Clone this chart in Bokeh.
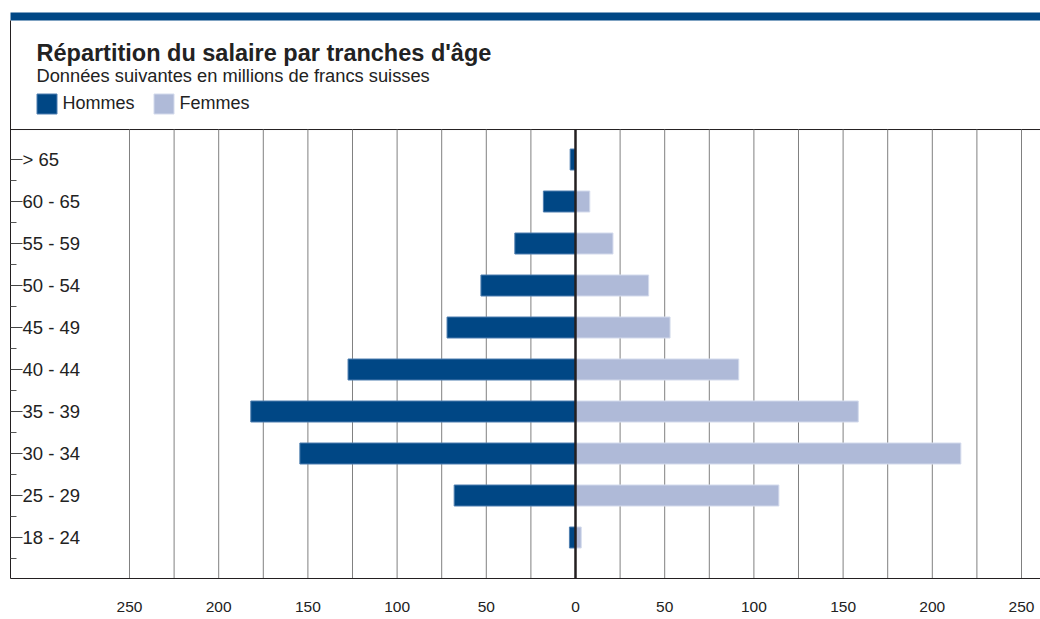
from bokeh.plotting import figure
from bokeh.models import (Range1d, FixedTicker, CustomJSTickFormatter, Legend, LegendItem,
                          ColumnDataSource, CustomLabelingPolicy)
from bokeh.core.properties import value
from bokeh.embed import file_html
from bokeh.resources import INLINE

# ---------------- data ----------------
categories = ["18 - 24", "25 - 29", "30 - 34", "35 - 39", "40 - 44",
              "45 - 49", "50 - 54", "55 - 59", "60 - 65", "> 65"]
hommes = [3.4, 68, 154.5, 182, 127.5, 72, 53, 34, 18, 3]
femmes = [3.2, 114, 216, 158.5, 91.5, 53, 41, 21, 8, 0]
series_names = ["Hommes", "Femmes"]
x_ticks = [-250, -200, -150, -100, -50, 0, 50, 100, 150, 200, 250]
grid_ticks = [-250, -225, -200, -175, -150, -125, -100, -75, -50, -25,
              25, 50, 75, 100, 125, 150, 175, 200, 225, 250]
title_text = "Répartition du salaire par tranches d'âge"
subtitle_text = "Données suivantes en millions de francs suisses"

# ---------------- style ----------------
FONT = "Liberation Sans"
TXT = "#222222"
C_H = "#004785"
C_F = "#afbad8"

W, H = 1040, 619
FRAME_W, FRAME_H = 1030, 578
Y0, Y1 = -0.976, 12.786        # frame y extent (data units, 42 px per row)
PLOT_TOP = 9.714               # top line of the plot region
AXIS_TOP = 12.31               # left border starts under the blue band

p = figure(width=W, height=H, output_backend="svg", toolbar_location=None,
           title=None,
           x_range=Range1d(-316.7, 260.65), y_range=Range1d(Y0, Y1))
p.min_border = 0
p.min_border_left = 10
p.min_border_bottom = 41
p.outline_line_color = None
p.background_fill_color = "white"
p.border_fill_color = "white"
p.xgrid.visible = False
p.ygrid.visible = False

p.extra_x_ranges = {"px": Range1d(0, FRAME_W)}
p.extra_y_ranges = {"py": Range1d(FRAME_H, 0)}

idx = list(range(len(categories)))

# header
p.quad(left=[-5], right=[1040], top=[12], bottom=[20], x_range_name="px", y_range_name="py",
       fill_color=C_H, line_color=None)
p.text(x=[26], y=[52.7], text=[title_text], x_range_name="px", y_range_name="py",
       text_font=value(FONT), text_font_size="23.5px", text_font_style="bold",
       text_color=TXT, text_baseline="alphabetic")
p.text(x=[26], y=[74.5], text=[subtitle_text], x_range_name="px", y_range_name="py",
       text_font=value(FONT), text_font_size="18.3px",
       text_color=TXT, text_baseline="alphabetic")

# top line of plot region
p.segment(x0=[-5], x1=[1040], y0=[PLOT_TOP], y1=[PLOT_TOP], x_range_name="px",
          line_color="#231f20", line_width=1)

# vertical gridlines
p.segment(x0=grid_ticks, x1=grid_ticks, y0=[Y0] * len(grid_ticks), y1=[PLOT_TOP] * len(grid_ticks),
          line_color="#808080", line_width=1)

# bars
src = ColumnDataSource(dict(y=idx, h_left=[-v for v in hommes], zero=[0] * len(idx),
                            f_right=femmes))
rh = p.hbar(y="y", left="h_left", right="zero", height=0.5, source=src,
            fill_color=C_H, line_color="#4f7fb0", line_width=1)
rf = p.hbar(y="y", left="zero", right="f_right", height=0.5, source=src,
            fill_color=C_F, line_color="#d3daec", line_width=1)

# zero line
p.segment(x0=[0], x1=[0], y0=[Y0], y1=[PLOT_TOP], line_color="#231f20", line_width=2.5)

# category labels
p.text(x=[12] * len(idx), y=idx, text=categories, x_range_name="px",
       text_font=value(FONT), text_font_size="18.5px", text_color=TXT,
       text_baseline="middle", text_align="left")

# axes
xa = p.xaxis[0]
xa.ticker = FixedTicker(ticks=x_ticks)
xa.formatter = CustomJSTickFormatter(code="return Math.abs(tick).toString();")
xa.major_tick_in = 0
xa.major_tick_out = 0
xa.minor_tick_in = 0
xa.minor_tick_out = 0
xa.axis_line_color = "#231f20"
xa.axis_line_width = 1
xa.major_label_standoff = 23
xa.major_label_text_font = FONT
xa.major_label_text_font_size = "15.5px"
xa.major_label_text_color = TXT

ya = p.yaxis[0]
ya.ticker = FixedTicker(ticks=idx, minor_ticks=[i - 0.5 for i in idx])
ya.formatter = CustomJSTickFormatter(code="return '';")
ya.major_label_policy = CustomLabelingPolicy(code="return new Set();")
ya.bounds = (Y0, AXIS_TOP)
ya.major_tick_in = 12
ya.major_tick_out = 0
ya.minor_tick_in = 6
ya.minor_tick_out = 0
ya.major_tick_line_color = "#444444"
ya.minor_tick_line_color = "#555555"
ya.axis_line_color = "#231f20"
ya.major_label_standoff = 0

# legend
legend = Legend(items=[LegendItem(label=series_names[0], renderers=[rh]),
                       LegendItem(label=series_names[1], renderers=[rf])],
                orientation="horizontal", location=(23.5, FRAME_H - 115.5),
                padding=0, margin=0, spacing=16, label_standoff=4,
                glyph_width=25, glyph_height=25, label_height=25,
                label_text_font=FONT, label_text_font_size="18px", label_text_color=TXT,
                border_line_color=None, background_fill_alpha=0)
p.add_layout(legend, "center")

open("out.html", "w").write(file_html(p, INLINE))
